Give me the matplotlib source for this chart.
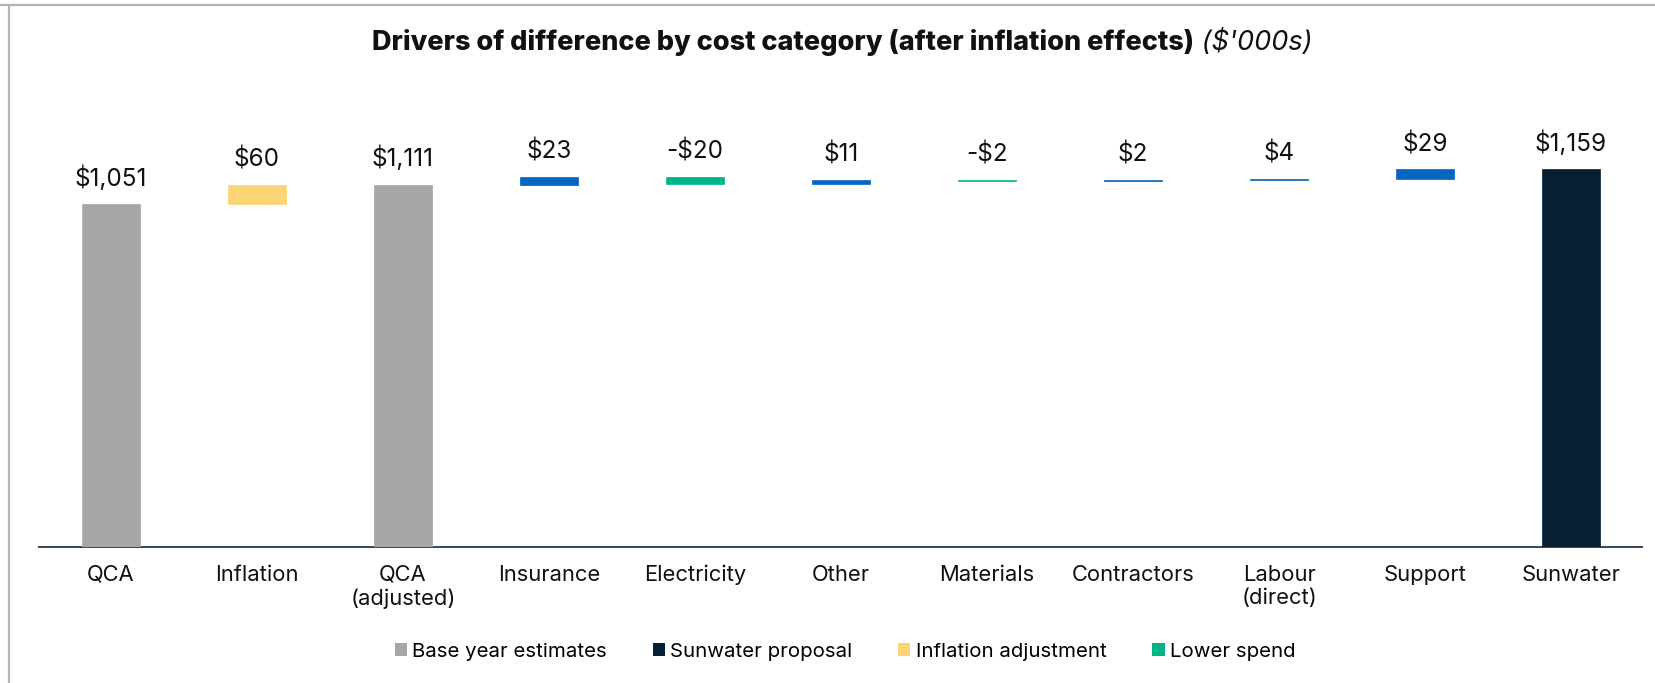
import matplotlib
matplotlib.use("Agg")
import matplotlib.pyplot as plt
from matplotlib.patches import Patch
from matplotlib.lines import Line2D
import numpy as np

plt.rcParams['font.family'] = ['Inter', 'DejaVu Sans']

categories = ["QCA", "Inflation", "QCA\n(adjusted)", "Insurance", "Electricity", "Other",
              "Materials", "Contractors", "Labour\n(direct)", "Support", "Sunwater"]
values = [1051, 60, 1111, 23, -20, 11, -2, 2, 4, 29, 1159]
kinds = ["total", "inflation", "total", "delta", "delta", "delta", "delta", "delta", "delta", "delta", "proposal"]
labels = ["$1,051", "$60", "$1,111", "$23", "-$20", "$11", "-$2", "$2", "$4", "$29", "$1,159"]

legend_names = ["Base year estimates", "Sunwater proposal", "Inflation adjustment", "Lower spend"]

C_GREY = "#A6A6A6"
C_NAVY = "#061F32"
C_YEL = "#FDD475"
C_BLUE = "#0565C0"
C_GREEN = "#00B48A"

fig = plt.figure(figsize=(16.55, 6.83), dpi=100)
ax = fig.add_axes([39/1655, 0.1984, (1642-39)/1655, 0.6218])

x = np.arange(len(categories))
bottoms, heights, colors = [], [], []
running = 0.0
for v, k in zip(values, kinds):
    if k in ("total", "proposal"):
        bottoms.append(0)
        heights.append(v)
        colors.append(C_GREY if k == "total" else C_NAVY)
        running = v
    else:
        bottoms.append(running)
        heights.append(v)
        if k == "inflation":
            colors.append(C_YEL)
        else:
            colors.append(C_BLUE if v > 0 else C_GREEN)
        running += v

bars = ax.bar(x, heights, bottom=bottoms, width=0.40, color=colors,
              edgecolor=colors, linewidth=0.5, zorder=3)

for xi, b, h, lab in zip(x, bottoms, heights, labels):
    top = max(b, b + h)
    ax.annotate(lab, (xi, top), xytext=(0, 13), textcoords="offset points",
                ha="center", va="baseline", fontsize=17.5, color="#111111")

ax.set_xlim(-0.493, len(categories) - 1 + 0.486)
ax.set_ylim(0, 1300)
ax.set_xticks(x)
ax.set_xticklabels(categories, fontsize=15.8, linespacing=1.22, color="#111111")
ax.tick_params(axis="x", length=0, pad=12.5)
ax.set_yticks([])
for s in ("left", "right", "top"):
    ax.spines[s].set_visible(False)
ax.spines["bottom"].set_color("#34495A")
ax.spines["bottom"].set_linewidth(1.4)

handles = [Patch(facecolor=c, edgecolor="none") for c in (C_GREY, C_NAVY, C_YEL, C_GREEN)]
fig.legend(handles, legend_names, loc="center", bbox_to_anchor=(845/1655, 0.046),
           ncol=4, frameon=False, fontsize=14.7, handlelength=0.6, handleheight=0.65,
           handletextpad=0.25, columnspacing=2.25)

# Title: bold part + italic part, centred as a whole
renderer = fig.canvas.get_renderer()
t1 = fig.text(0, 1 - 50/683, "Drivers of difference by cost category (after inflation effects)",
              fontsize=19.5, fontweight="heavy", ha="left", va="baseline", color="#111111")
t2 = fig.text(0, 1 - 50/683, " ($'000s)", fontsize=19.5, fontstyle="italic",
              ha="left", va="baseline", color="#111111")
w1 = t1.get_window_extent(renderer).width
w2 = t2.get_window_extent(renderer).width
cx = 842
start = cx - (w1 + w2) / 2
t1.set_x(start / 1655)
t2.set_x((start + w1) / 1655)

# figure border (top and left)
fig.add_artist(Line2D([0, 1], [1 - 4.5/683, 1 - 4.5/683], transform=fig.transFigure,
                      color="#B5B5B5", linewidth=1.6))
fig.add_artist(Line2D([8.5/1655, 8.5/1655], [0, 1 - 4.5/683], transform=fig.transFigure,
                      color="#B5B5B5", linewidth=1.6))

fig.savefig("out.png", dpi=100)
